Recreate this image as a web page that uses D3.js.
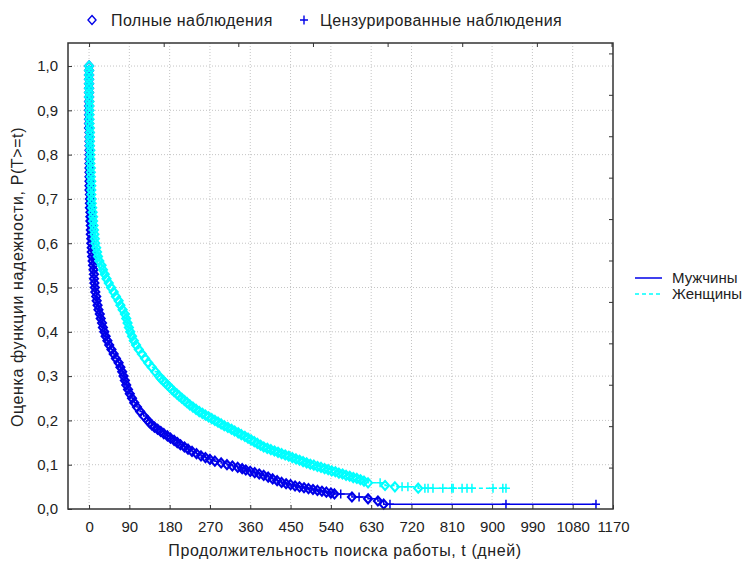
<!DOCTYPE html>
<html>
<head>
<meta charset="utf-8">
<script src="https://cdn.jsdelivr.net/npm/d3@7/dist/d3.min.js"></script>
<style>
  body { margin: 0; background: #fff; }
  svg { display: block; font-family: "Liberation Sans", Arial, sans-serif; }
</style>
</head>
<body>
<svg id="chart" width="748" height="563"></svg>
<script>
// Kaplan-Meier estimates: [days, survival]
const seriesNames = ['Мужчины', 'Женщины'];
const legendTop = ['Полные наблюдения', 'Цензурированные наблюдения'];

// men: complete observations
const menEvents = [
  [0, 1.00], [0, 0.99], [0, 0.98], [0, 0.97], [0, 0.96], [0, 0.95], [0, 0.94], [0, 0.93], [0, 0.92], [0, 0.91],
  [0, 0.90], [0, 0.89], [0, 0.88], [0, 0.87], [0, 0.86], [1, 0.85], [1, 0.84], [1, 0.83], [1, 0.82], [1, 0.81],
  [1, 0.80], [1, 0.79], [1, 0.78], [1, 0.77], [1, 0.76], [1, 0.75], [1, 0.74], [1, 0.73], [1, 0.72], [2, 0.71],
  [2, 0.70], [2, 0.69], [2, 0.68], [3, 0.67], [3, 0.66], [3, 0.65], [4, 0.64], [4, 0.63], [4, 0.62], [5, 0.61],
  [5, 0.60], [6, 0.59], [6, 0.58], [7, 0.57], [8, 0.56], [9, 0.55], [10, 0.54], [11, 0.53], [11, 0.52], [12, 0.51],
  [13, 0.50], [14, 0.49], [16, 0.48], [17, 0.47], [19, 0.46], [21, 0.45], [24, 0.44], [26, 0.43], [29, 0.42], [31, 0.41],
  [34, 0.40], [37, 0.39], [41, 0.38], [45, 0.37], [50, 0.36], [55, 0.35], [60, 0.34], [66, 0.33], [70, 0.32], [74, 0.31],
  [77, 0.30], [80, 0.29], [83, 0.28], [87, 0.27], [91, 0.26], [96, 0.25], [101, 0.24], [107, 0.23], [114, 0.22], [122, 0.21],
  [131, 0.20], [135, 0.195], [140, 0.19], [146, 0.185], [153, 0.18], [160, 0.175], [167, 0.17], [175, 0.165], [182, 0.16], [190, 0.155],
  [197, 0.15], [204, 0.145], [213, 0.14], [221, 0.135], [230, 0.13], [240, 0.125], [250, 0.12], [260, 0.116], [270, 0.112], [281, 0.108],
  [295, 0.104], [308, 0.10], [320, 0.097], [332, 0.094], [342, 0.091], [350, 0.088], [360, 0.085], [370, 0.082], [380, 0.079], [390, 0.076],
  [400, 0.072], [410, 0.068], [420, 0.064], [430, 0.06], [440, 0.057], [450, 0.055], [460, 0.052], [470, 0.05], [480, 0.048], [490, 0.046],
  [500, 0.044], [510, 0.042], [520, 0.04], [530, 0.038], [540, 0.036], [548, 0.034], [587, 0.027], [623, 0.023], [645, 0.018], [658, 0.011]
];
// men: censored observations
const menCensored = [[562, 0.034], [603, 0.027], [672, 0.011], [931, 0.011], [1132, 0.011]];

// women: complete observations
const womenEvents = [
  [0, 1.00], [0, 0.99], [0, 0.98], [0, 0.97], [0, 0.96], [0, 0.95], [0, 0.94], [0, 0.93], [1, 0.92], [1, 0.91],
  [1, 0.90], [1, 0.89], [1, 0.88], [1, 0.87], [2, 0.86], [2, 0.85], [2, 0.84], [2, 0.83], [2, 0.82], [3, 0.81],
  [3, 0.80], [3, 0.79], [3, 0.78], [4, 0.77], [4, 0.76], [4, 0.75], [5, 0.74], [5, 0.73], [5, 0.72], [5, 0.71],
  [6, 0.70], [6, 0.69], [7, 0.68], [8, 0.67], [9, 0.66], [9, 0.65], [10, 0.64], [11, 0.63], [12, 0.62], [13, 0.61],
  [14, 0.60], [16, 0.59], [18, 0.58], [20, 0.57], [23, 0.56], [28, 0.55], [31, 0.54], [35, 0.53], [39, 0.52], [44, 0.51],
  [49, 0.50], [55, 0.49], [60, 0.48], [66, 0.47], [70, 0.46], [75, 0.45], [80, 0.44], [83, 0.43], [86, 0.42], [89, 0.41],
  [92, 0.40], [96, 0.39], [100, 0.38], [105, 0.37], [111, 0.36], [118, 0.35], [125, 0.34], [132, 0.33], [140, 0.32], [148, 0.31],
  [156, 0.30], [160, 0.295], [165, 0.29], [170, 0.285], [175, 0.28], [180, 0.275], [185, 0.27], [190, 0.265], [196, 0.26], [201, 0.255],
  [207, 0.25], [213, 0.245], [219, 0.24], [225, 0.235], [232, 0.23], [239, 0.225], [246, 0.22], [253, 0.216], [260, 0.212], [267, 0.208],
  [274, 0.204], [281, 0.20], [288, 0.196], [295, 0.192], [302, 0.188], [310, 0.184], [318, 0.18], [325, 0.176], [333, 0.172], [340, 0.168],
  [348, 0.164], [355, 0.16], [362, 0.156], [369, 0.152], [376, 0.148], [383, 0.144], [390, 0.14], [398, 0.137], [406, 0.134], [414, 0.131],
  [422, 0.128], [430, 0.125], [438, 0.122], [446, 0.119], [454, 0.116], [462, 0.113], [470, 0.11], [478, 0.107], [486, 0.104], [494, 0.101],
  [502, 0.099], [510, 0.096], [518, 0.094], [526, 0.091], [534, 0.089], [542, 0.086], [550, 0.084], [558, 0.081], [566, 0.079], [574, 0.076],
  [582, 0.074], [590, 0.071], [598, 0.069], [606, 0.066], [614, 0.063], [623, 0.059], [661, 0.053], [683, 0.050], [735, 0.047]
];
// women: censored observations
const womenCensored = [[650, 0.059], [699, 0.050], [712, 0.050], [750, 0.047], [757, 0.047], [768, 0.047], [790, 0.047],
  [810, 0.047], [813, 0.047], [833, 0.047], [844, 0.047], [855, 0.047], [902, 0.047], [924, 0.047], [931, 0.047]];

const xTicks = [0, 90, 180, 270, 360, 450, 540, 630, 720, 810, 900, 990, 1080, 1170];
const yTicks = [0, 0.1, 0.2, 0.3, 0.4, 0.5, 0.6, 0.7, 0.8, 0.9, 1.0];
// secondary (top / right) tick marks
const xTopTicks = [0, 166.7, 333.3, 500, 666.7, 833.3, 1000, 1166.7];
const yRightTicks = [0.0935, 0.187, 0.2805, 0.374, 0.4675, 0.561, 0.6545, 0.748, 0.8415, 0.935, 1.0285];

const svg = d3.select('#chart');
const pLeft = 68, pRight = 613, pTop = 43, pBottom = 509;

const x = d3.scaleLinear().domain([-47, 1170]).range([pLeft, pRight]);
const y = d3.scaleLinear().domain([0, 1.052]).range([pBottom, pTop]);

const colors = ['#0000e8', '#00ffff'];
const dashes = [null, '4,3'];

// grid
const grid = svg.append('g');
grid.selectAll('.gx').data(xTicks.filter(d => d < 1170)).enter().append('line')
  .attr('x1', d => x(d)).attr('x2', d => x(d))
  .attr('y1', pTop).attr('y2', pBottom)
  .attr('stroke', '#c4c4c4').attr('stroke-dasharray', '1,2');
grid.selectAll('.gy').data(yTicks.filter(d => d > 0)).enter().append('line')
  .attr('x1', pLeft).attr('x2', pRight)
  .attr('y1', d => y(d)).attr('y2', d => y(d))
  .attr('stroke', '#c4c4c4').attr('stroke-dasharray', '1,2');

const diamond = 'M0,-4.5L4,0L0,4.5L-4,0Z';
const plus = 'M-4,0H4M0,-4.5V4.5';

const series = [
  { ev: menEvents, cens: menCensored },
  { ev: womenEvents, cens: womenCensored }
];

const line = d3.line()
  .x(d => x(d[0]))
  .y(d => y(d[1]))
  .curve(d3.curveStepAfter);

series.forEach((s, k) => {
  const pts = s.ev.concat(s.cens).sort((a, b) => a[0] - b[0] || b[1] - a[1]);
  const g = svg.append('g');
  g.append('path')
    .attr('d', line(pts))
    .attr('fill', 'none')
    .attr('stroke', colors[k])
    .attr('stroke-width', 1.5)
    .attr('stroke-dasharray', dashes[k]);
  g.selectAll('.ev').data(s.ev).enter().append('path')
    .attr('d', diamond)
    .attr('transform', d => `translate(${x(d[0])},${y(d[1])})`)
    .attr('fill', 'none')
    .attr('stroke', colors[k])
    .attr('stroke-width', 2.1);
  g.selectAll('.cs').data(s.cens).enter().append('path')
    .attr('d', plus)
    .attr('transform', d => `translate(${x(d[0])},${y(d[1])})`)
    .attr('fill', 'none')
    .attr('stroke', colors[k])
    .attr('stroke-width', 1.5);
});

// frame
svg.append('rect')
  .attr('x', pLeft).attr('y', pTop)
  .attr('width', pRight - pLeft).attr('height', pBottom - pTop)
  .attr('fill', 'none').attr('stroke', '#333').attr('stroke-width', 1.5);

const fmt = d => d3.format('.1f')(d).replace('.', ',');

// axes with inward ticks
svg.append('g')
  .attr('transform', `translate(0,${pBottom})`)
  .call(d3.axisBottom(x).tickValues(xTicks).tickFormat(d3.format('d')).tickSizeInner(-4).tickSizeOuter(0).tickPadding(12))
  .call(g => g.select('.domain').remove())
  .call(g => g.selectAll('line').attr('stroke', '#333'))
  .selectAll('text')
  .style('font-size', '15px').style('fill', '#222');

svg.append('g')
  .attr('transform', `translate(${pLeft},0)`)
  .call(d3.axisLeft(y).tickValues(yTicks).tickFormat(fmt).tickSizeInner(-4).tickSizeOuter(0).tickPadding(10))
  .call(g => g.select('.domain').remove())
  .call(g => g.selectAll('line').attr('stroke', '#333'))
  .selectAll('text')
  .style('font-size', '15px').style('fill', '#222');

svg.append('g')
  .attr('transform', `translate(0,${pTop})`)
  .call(d3.axisTop(x).tickValues(xTopTicks).tickSizeInner(-4).tickSizeOuter(0).tickFormat(''))
  .call(g => g.select('.domain').remove())
  .call(g => g.selectAll('line').attr('stroke', '#333'));

svg.append('g')
  .attr('transform', `translate(${pRight},0)`)
  .call(d3.axisRight(y).tickValues(yRightTicks).tickSizeInner(-4).tickSizeOuter(0).tickFormat(''))
  .call(g => g.select('.domain').remove())
  .call(g => g.selectAll('line').attr('stroke', '#333'));

// axis titles
svg.append('text')
  .attr('x', 345).attr('y', 556)
  .attr('text-anchor', 'middle')
  .style('font-size', '16px').style('letter-spacing', '0.6px').style('fill', '#222')
  .text('Продолжительность поиска работы, t (дней)');

svg.append('text')
  .attr('transform', 'translate(23,277) rotate(-90)')
  .attr('text-anchor', 'middle')
  .style('font-size', '16px').style('letter-spacing', '0.6px').style('fill', '#222')
  .text('Оценка функции надежности, P(T>=t)');

// top legend
const lt = svg.append('g');
lt.append('path').attr('d', diamond).attr('transform', 'translate(92,20)')
  .attr('fill', 'none').attr('stroke', colors[0]).attr('stroke-width', 1.4);
lt.append('text').attr('x', 111).attr('y', 26)
  .style('font-size', '16px').style('letter-spacing', '0.4px').style('fill', '#222').text(legendTop[0]);
lt.append('path').attr('d', plus).attr('transform', 'translate(304,20)')
  .attr('fill', 'none').attr('stroke', colors[0]).attr('stroke-width', 1.4);
lt.append('text').attr('x', 320).attr('y', 26)
  .style('font-size', '16px').style('letter-spacing', '0.4px').style('fill', '#222').text(legendTop[1]);

// series legend
const lr = svg.selectAll('.lr').data(seriesNames).enter().append('g')
  .attr('transform', (d, i) => `translate(635,${278 + i * 16})`);
lr.append('line')
  .attr('x1', 0).attr('x2', 27)
  .attr('stroke', (d, i) => colors[i])
  .attr('stroke-width', 1.5)
  .attr('stroke-dasharray', (d, i) => dashes[i]);
lr.append('text')
  .attr('x', 37).attr('y', 5)
  .style('font-size', '15px').style('fill', '#222')
  .text(d => d);
</script>
</body>
</html>
